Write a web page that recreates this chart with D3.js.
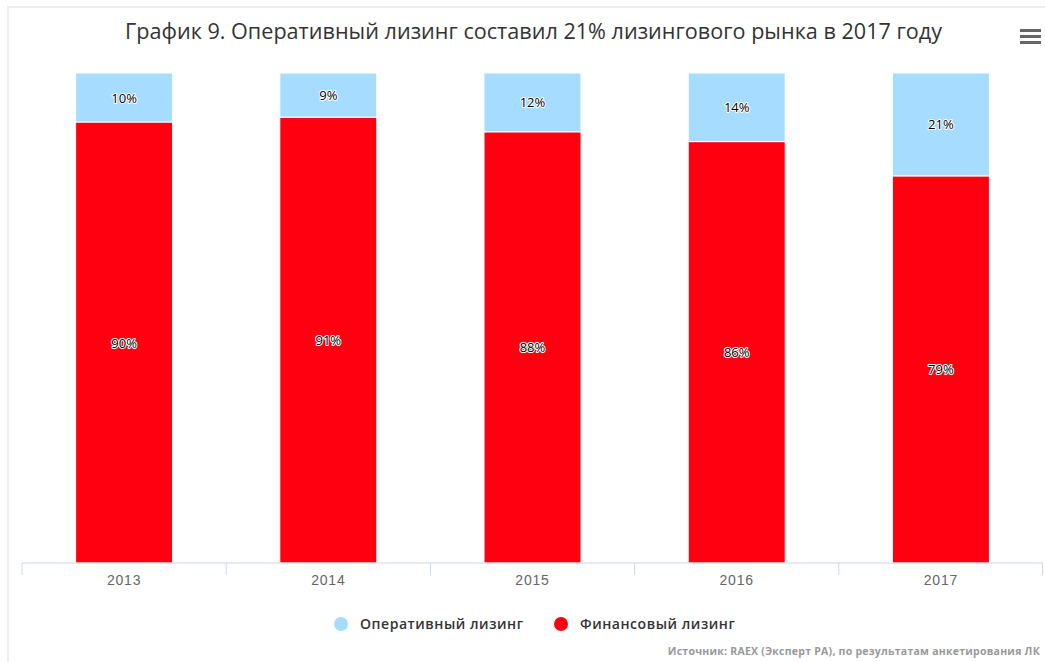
<!DOCTYPE html>
<head>
  <meta charset="utf-8">
  <script src="https://d3js.org/d3.v7.min.js"></script>
  <style>
    body { margin: 0; background: #fff; }
    svg { font-family: "Open Sans", sans-serif; }
    .tick text { fill: #666; font-size: 14px; letter-spacing: 0.8px; }
    .domain, .tick line { stroke: #ccd6eb; }
    .lbl { font-size: 13px; fill: #000; stroke: #fff; stroke-width: 2px; paint-order: stroke; stroke-linejoin: round; }
  </style>
</head>
<body>
<script>
  var years = ["2013", "2014", "2015", "2016", "2017"];
  var operLeasing = [10, 9, 12, 14, 21];
  var finLeasing = [90, 91, 88, 86, 79];
  var seriesNames = ["Оперативный лизинг", "Финансовый лизинг"];
  var seriesColors = ["#a6dcff", "#ff0011"];

  var W = 1045, H = 662;
  var margin = {top: 73, right: 2, bottom: 99, left: 22};

  var svg = d3.select("body").append("svg")
      .attr("width", W).attr("height", H);

  // frame
  svg.append("path")
      .attr("d", "M8,662 V7 H1045")
      .attr("fill", "none")
      .attr("stroke", "#eeeeee")
      .attr("stroke-width", 2);

  svg.append("text")
      .attr("x", 125).attr("y", 39)
      .attr("fill", "#333")
      .attr("textLength", 817)
      .attr("lengthAdjust", "spacingAndGlyphs")
      .style("font-size", "21px")
      .text("График 9. Оперативный лизинг составил 21% лизингового рынка в 2017 году");

  // menu icon
  [0, 6, 12].forEach(function(d) {
    svg.append("rect").attr("x", 1020).attr("y", 29 + d)
      .attr("width", 21).attr("height", 3).attr("fill", "#666");
  });

  var x = d3.scaleBand()
      .domain(years)
      .range([margin.left, W - margin.right])
      .paddingInner(0)
      .paddingOuter(0);
  var y = d3.scaleLinear().domain([0, 100]).range([H - margin.bottom, margin.top]);

  var data = years.map(function(yr, i) {
    var tot = operLeasing[i] + finLeasing[i];
    return {year: yr, fin: finLeasing[i] / tot * 100, oper: operLeasing[i] / tot * 100,
            finRaw: finLeasing[i], operRaw: operLeasing[i]};
  });
  var bw = x.bandwidth() * 0.475;

  var g = svg.append("g");
  data.forEach(function(d) {
    var cx = x(d.year) + x.bandwidth() / 2;
    g.append("rect")
      .attr("x", cx - bw / 2).attr("width", bw)
      .attr("y", y(d.fin)).attr("height", y(0) - y(d.fin))
      .attr("fill", seriesColors[1]).attr("stroke", "#fff").attr("stroke-width", 1);
    g.append("rect")
      .attr("x", cx - bw / 2).attr("width", bw)
      .attr("y", y(100)).attr("height", y(d.fin) - y(100))
      .attr("fill", seriesColors[0]).attr("stroke", "#fff").attr("stroke-width", 1);
    g.append("text").attr("class", "lbl")
      .attr("x", cx).attr("y", (y(0) + y(d.fin)) / 2 + 5)
      .attr("text-anchor", "middle")
      .text(d.finRaw + "%");
    g.append("text").attr("class", "lbl")
      .attr("x", cx).attr("y", (y(100) + y(d.fin)) / 2 + 5)
      .attr("text-anchor", "middle")
      .text(d.operRaw + "%");
  });

  var ax = svg.append("g")
      .attr("transform", "translate(0," + y(0) + ")")
      .call(d3.axisBottom(x).tickSize(0).tickPadding(12));
  ax.select(".domain").attr("d", "M" + margin.left + ",0H" + (W - margin.right));
  // tick marks at category boundaries
  var bounds = years.map(function(yr) { return x(yr); }).concat([W - margin.right - 0.5]);
  ax.selectAll(".bnd").data(bounds).enter().append("line")
      .attr("x1", function(d) { return d; }).attr("x2", function(d) { return d; })
      .attr("y1", 0).attr("y2", 12)
      .attr("stroke", "#ccd6eb");

  // legend
  var legend = svg.append("g").attr("transform", "translate(0,624)");
  var lx = [341, 561];
  seriesNames.forEach(function(name, i) {
    legend.append("circle").attr("cx", lx[i]).attr("cy", 0).attr("r", 7)
      .attr("fill", seriesColors[i]);
    legend.append("text").attr("x", lx[i] + 19).attr("y", 5)
      .attr("fill", "#333").style("font-size", "14px").style("font-weight", "600")
      .style("letter-spacing", "0.55px")
      .text(name);
  });

  svg.append("text")
      .attr("x", 1040).attr("y", 655)
      .attr("text-anchor", "end")
      .attr("fill", "#999")
      .style("font-size", "10.5px")
      .style("font-weight", "bold")
      .style("letter-spacing", "0.25px")
      .text("Источник: RAEX (Эксперт РА), по результатам анкетирования ЛК");
</script>
</body>
